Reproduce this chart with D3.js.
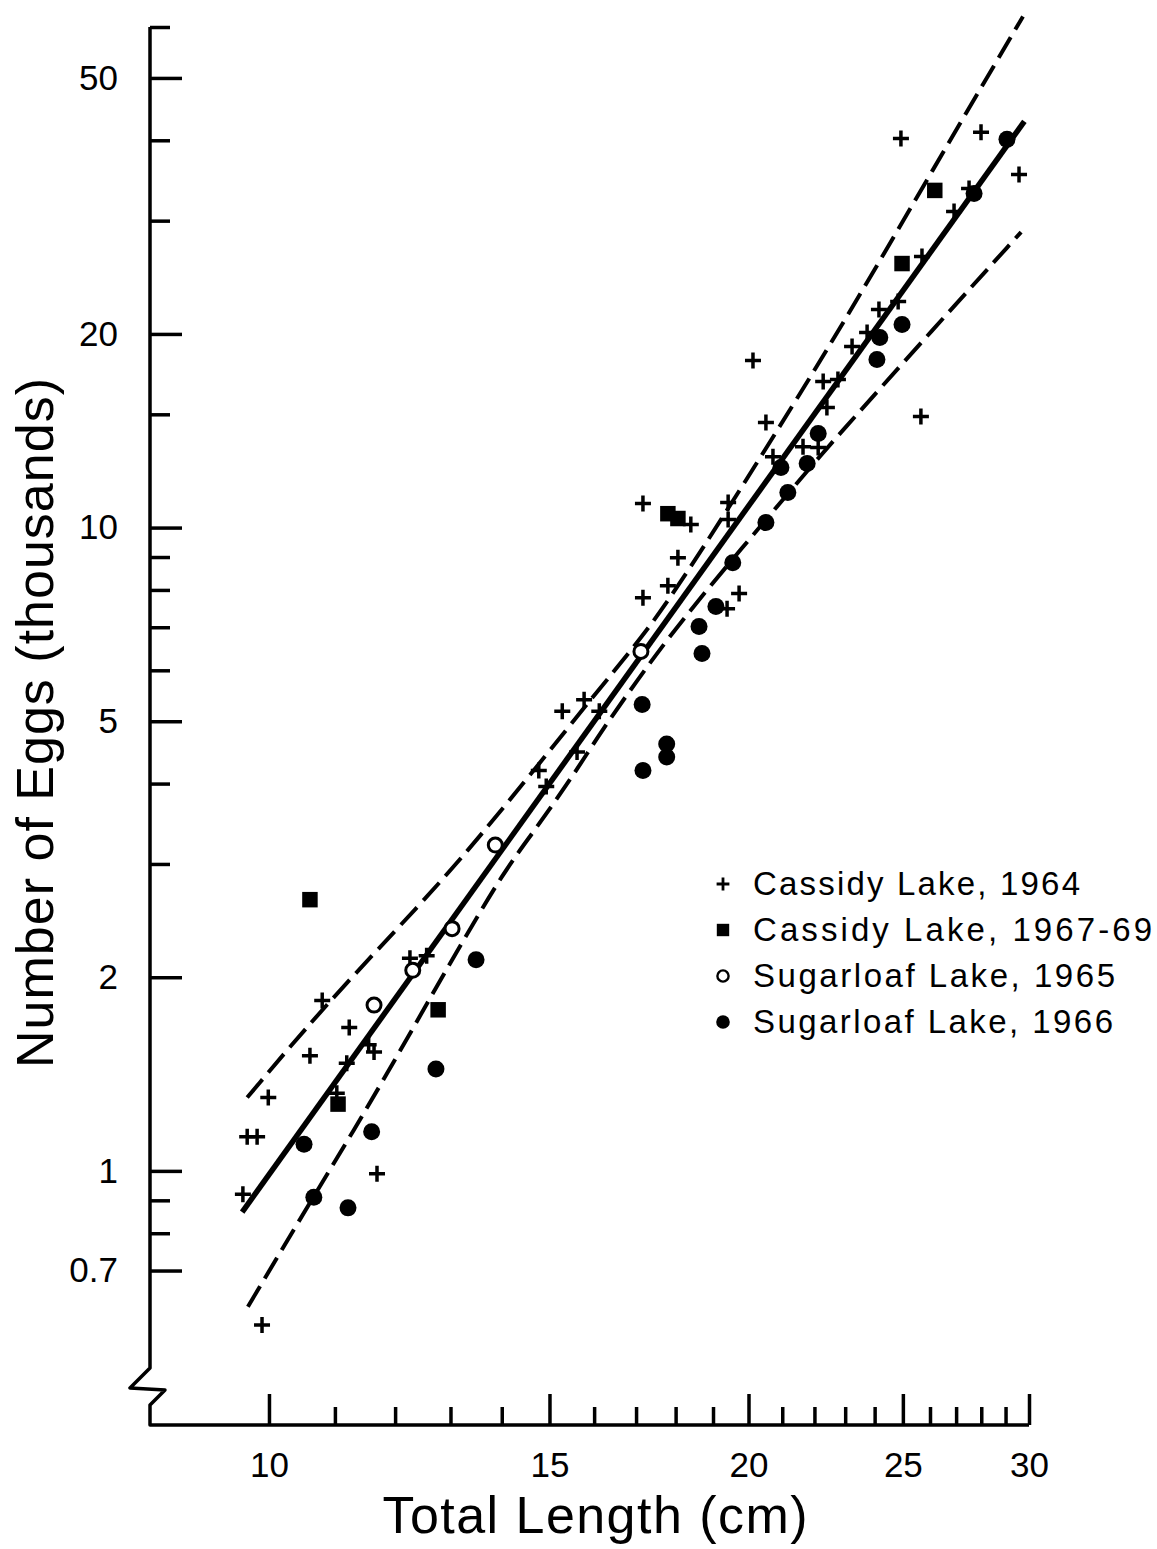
<!DOCTYPE html>
<html>
<head>
<meta charset="utf-8">
<script src="https://cdn.jsdelivr.net/npm/d3@7"></script>
<style>
  body { margin: 0; background: #fff; }
  svg text { font-family: "Liberation Sans", Arial, sans-serif; fill: #000; }
</style>
</head>
<body>
<svg id="chart" width="1157" height="1549"></svg>
<script>
// [total length (cm), number of eggs (thousands)]
const cassidy1964 = [
  [9.63, 0.92], [9.69, 1.13], [9.83, 1.13], [9.99, 1.30], [9.90, 0.576],
  [10.61, 1.51], [10.80, 1.84], [11.23, 1.67], [11.19, 1.47], [11.55, 1.57],
  [11.64, 1.53], [11.03, 1.32], [11.69, 0.99], [12.26, 2.14], [12.56, 2.16],
  [14.77, 4.19], [14.93, 3.96], [15.28, 5.18], [15.77, 5.40], [16.12, 5.18],
  [15.61, 4.48], [17.17, 7.78], [17.17, 10.90], [17.80, 8.12], [18.06, 8.98],
  [18.40, 10.11], [19.42, 10.94], [19.42, 10.29], [19.73, 7.90], [19.39, 7.48],
  [20.13, 18.19], [20.51, 14.57], [20.72, 12.89], [21.64, 13.36], [22.12, 13.32],
  [22.40, 15.37], [22.28, 16.87], [22.76, 16.99], [25.66, 14.88], [23.23, 19.12],
  [23.74, 20.11], [24.15, 21.83], [24.83, 22.46], [25.70, 26.39], [26.92, 31.00],
  [27.51, 33.67], [24.93, 40.27], [27.99, 41.15], [29.57, 35.40]
];
const cassidy1967 = [
  [10.61, 2.64], [11.05, 1.27], [12.77, 1.78], [17.80, 10.51], [18.06, 10.33],
  [24.97, 25.73], [26.18, 33.43]
];
const sugarloaf1965 = [
  [11.64, 1.81], [12.31, 2.05], [13.03, 2.38], [13.87, 3.21], [17.12, 6.42]
];
const sugarloaf1966 = [
  [10.52, 1.10], [10.67, 0.91], [11.21, 0.876], [11.60, 1.15], [12.73, 1.44],
  [13.49, 2.13], [17.15, 5.31], [17.17, 4.19], [17.77, 4.61], [17.77, 4.40],
  [18.62, 7.02], [18.70, 6.37], [19.08, 7.54], [19.55, 8.82], [20.51, 10.18],
  [20.96, 12.40], [21.17, 11.34], [21.77, 12.58], [22.12, 14.00], [24.08, 18.25],
  [24.18, 19.75], [24.97, 20.69], [27.71, 33.06], [29.06, 40.13]
];

// regression line and its confidence limits
const fitLine = [[9.62, 0.863], [29.8, 42.8]];
const upperLimit = [
  [9.69, 1.30], [10.80, 1.79], [12.53, 2.64], [13.51, 3.27], [14.73, 4.25],
  [15.97, 5.46], [17.17, 6.77], [18.19, 8.30], [20.13, 12.31], [22.83, 20.32],
  [26.00, 35.4], [29.74, 62.3]
];
const lowerLimit = [
  [9.70, 0.615], [10.67, 0.914], [11.44, 1.213], [12.30, 1.657], [13.14, 2.21],
  [14.07, 2.94], [14.63, 3.34], [15.61, 4.20], [16.14, 4.80], [17.27, 6.08],
  [18.38, 7.46], [21.54, 11.88], [22.73, 13.85], [26.11, 20.32], [29.66, 28.8]
];

const xMajor = [10, 15, 20, 25, 30];
const xMinor = [11, 12, 13, 14, 16, 17, 18, 19, 21, 22, 23, 24, 26, 27, 28, 29];
const yMajor = [0.7, 1, 2, 5, 10, 20, 50];
const yMinor = [0.8, 0.9, 3, 4, 6, 7, 8, 9, 15, 30, 40, 60];

const legendItems = [
  {label: "Cassidy Lake, 1964", kind: "plus", len: 327},
  {label: "Cassidy Lake, 1967-69", kind: "square", len: 399},
  {label: "Sugarloaf Lake, 1965", kind: "open", len: 362},
  {label: "Sugarloaf Lake, 1966", kind: "dot", len: 360}
];

const svg = d3.select("#chart");

const x = d3.scaleLog().domain([8.42, 30]).range([150, 1029]);
const y = d3.scaleLog().domain([0.4027, 60]).range([1425, 27]);

const x0 = x.range()[0], xEnd = x(30), yBase = y.range()[0];

// axes: ticks point inward
function styleAxis(g) {
  g.select(".domain").remove();
  g.selectAll(".tick line").attr("stroke-width", 3.5);
  g.attr("font-family", "Liberation Sans, Arial, sans-serif").attr("font-size", 35);
}

svg.append("g").attr("transform", `translate(0,${yBase})`)
   .call(d3.axisBottom(x).tickValues(xMinor).tickSize(-18).tickFormat(""))
   .call(styleAxis);
svg.append("g").attr("transform", `translate(0,${yBase})`)
   .call(d3.axisBottom(x).tickValues(xMajor).tickSize(-31).tickPadding(27).tickFormat(d3.format("d")))
   .call(styleAxis);

svg.append("g").attr("transform", `translate(${x0},0)`)
   .call(d3.axisLeft(y).tickValues(yMinor).tickSize(-20).tickFormat(""))
   .call(styleAxis);
svg.append("g").attr("transform", `translate(${x0},0)`)
   .call(d3.axisLeft(y).tickValues(yMajor).tickSize(-32).tickPadding(32).tickFormat(d => String(d)))
   .call(styleAxis);

// frame with the broken-axis zigzag
const frame = d3.path();
frame.moveTo(x0, y(60));
frame.lineTo(x0, 1368);
frame.lineTo(x0 - 20, 1388);
frame.lineTo(x0 + 15, 1390);
frame.lineTo(x0, 1405);
frame.lineTo(x0, yBase);
frame.lineTo(xEnd, yBase);
svg.append("path").attr("d", frame.toString())
   .attr("fill", "none").attr("stroke", "#000").attr("stroke-width", 3.5)
   .attr("stroke-linejoin", "round");

// regression and limits
const straight = d3.line().x(d => x(d[0])).y(d => y(d[1]));
const smooth = d3.line().x(d => x(d[0])).y(d => y(d[1])).curve(d3.curveBasis);

svg.append("path").datum(fitLine).attr("d", straight)
   .attr("fill", "none").attr("stroke", "#000").attr("stroke-width", 5.5);
[upperLimit, lowerLimit].forEach(band => {
  svg.append("path").datum(band).attr("d", smooth)
     .attr("fill", "none").attr("stroke", "#000").attr("stroke-width", 4)
     .attr("stroke-dasharray", "24,9");
});

// markers
function drawMarker(g, kind, s) {
  if (kind === "plus") {
    g.append("path").attr("d", `M${-8 * s},0H${8 * s}M0,${-8 * s}V${8 * s}`)
     .attr("stroke", "#000").attr("stroke-width", 3.5 * s);
  } else if (kind === "square") {
    g.append("path").attr("d", d3.symbol(d3.symbolSquare, 240 * s * s)).attr("fill", "#000");
  } else if (kind === "open") {
    g.append("circle").attr("r", 7 * s).attr("fill", "#fff")
     .attr("stroke", "#000").attr("stroke-width", 3 * s);
  } else {
    g.append("circle").attr("r", 8.5 * s).attr("fill", "#000");
  }
}

const series = [
  {data: cassidy1964, kind: "plus"},
  {data: cassidy1967, kind: "square"},
  {data: sugarloaf1965, kind: "open"},
  {data: sugarloaf1966, kind: "dot"}
];
series.forEach(sr => {
  sr.data.forEach(d => {
    const g = svg.append("g").attr("transform", `translate(${x(d[0])},${y(d[1])})`);
    drawMarker(g, sr.kind, 1);
  });
});

// legend
const legend = svg.append("g").attr("transform", "translate(723,884)");
legendItems.forEach((item, i) => {
  const row = legend.append("g").attr("transform", `translate(0,${i * 46})`);
  drawMarker(row, item.kind, 0.8);
  row.append("text").attr("x", 30).attr("y", 11)
     .attr("font-size", 33)
     .attr("textLength", item.len).attr("lengthAdjust", "spacing")
     .text(item.label);
});

// axis titles
svg.append("text")
   .attr("x", 595).attr("y", 1533)
   .attr("text-anchor", "middle").attr("font-size", 52)
   .attr("textLength", 425).attr("lengthAdjust", "spacing")
   .text("Total Length (cm)");

svg.append("text")
   .attr("transform", "translate(53,723) rotate(-90)")
   .attr("text-anchor", "middle").attr("font-size", 52)
   .attr("textLength", 690).attr("lengthAdjust", "spacing")
   .text("Number of Eggs (thousands)");
</script>
</body>
</html>
